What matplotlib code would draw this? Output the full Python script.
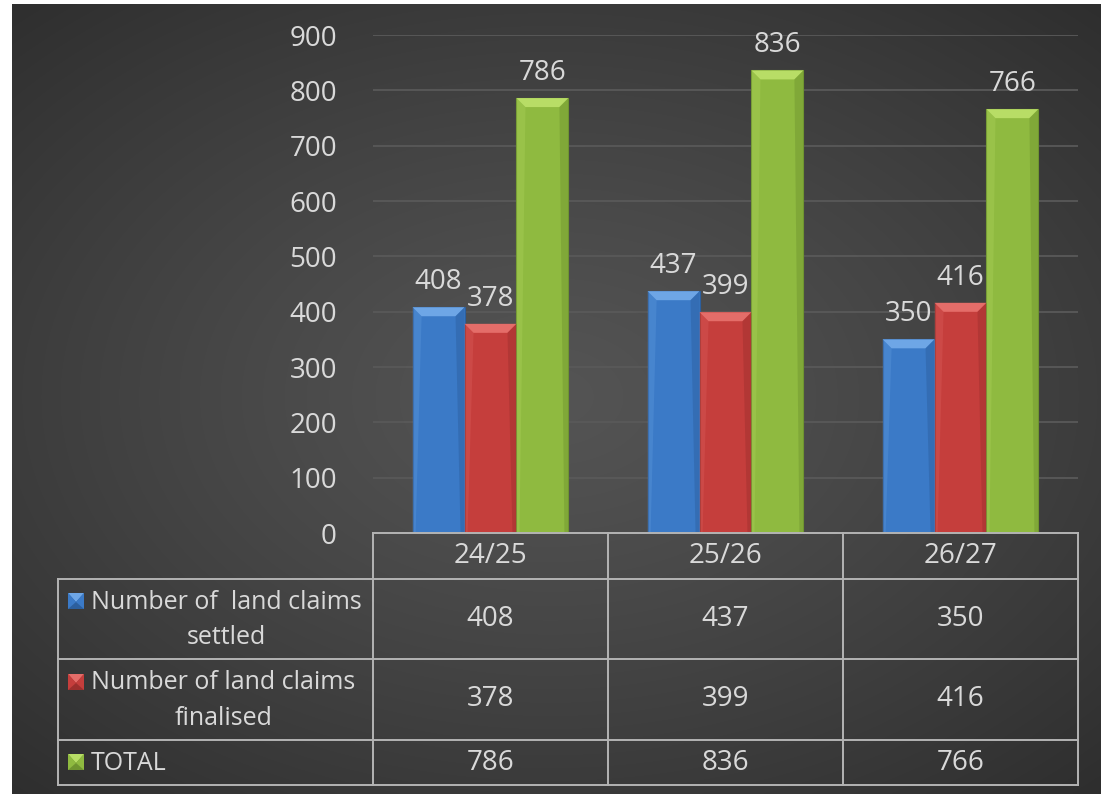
import numpy as np
import matplotlib
matplotlib.use("Agg")
import matplotlib.pyplot as plt
from matplotlib.patches import Polygon, Rectangle

years = ["24/25", "25/26", "26/27"]
settled = [408, 437, 350]
finalised = [378, 399, 416]
total = [786, 836, 766]
series_labels = ["Number of  land claims\nsettled", "Number of land claims\nfinalised", "TOTAL"]
y_ticks = [0, 100, 200, 300, 400, 500, 600, 700, 800, 900]

face_cols = ["#3b7ac7", "#c53e3c", "#8fba40"]
top_cols = ["#6ea6e6", "#e46d69", "#b8dd66"]
dark_cols = ["#2c5f9e", "#9c2f2d", "#6f9430"]
txt_col = "#d9d9d9"
line_col = "#b4b4b4"
plt.rcParams["font.family"] = ["Open Sans", "DejaVu Sans"]
fs = 20
fs_lbl = 18

W, H = 1101, 794
fig = plt.figure(figsize=(W / 100, H / 100), dpi=100)
fig.patch.set_facecolor("#262626")

# dark radial backdrop
bg = fig.add_axes([0, 0, 1, 1])
bg.set_axis_off()
yy, xx = np.mgrid[0:1:400j, 0:1:550j]
r = np.sqrt(((xx - 0.5) / 0.85) ** 2 + ((yy - 0.5) / 0.8) ** 2)
r = np.clip(r, 0, 1)
c0, c1 = 0.33, 0.15
shade = c0 - (c0 - c1) * r ** 1.2
bg.imshow(np.dstack([shade] * 3), aspect="auto", extent=[0, 1, 0, 1], interpolation="bilinear")
bg.set_xlim(0, 1)
bg.set_ylim(0, 1)
# white margin on the left and top
bg.add_patch(Rectangle((0, 0), 12 / W, 1, color="white", lw=0, zorder=5))
bg.add_patch(Rectangle((0, 1 - 4 / H), 1, 4 / H, color="white", lw=0, zorder=5))

# bar chart
ax = fig.add_axes([373 / W, (H - 533) / H, 705 / W, 498 / H])
ax.set_facecolor("none")
ax.set_xlim(-0.5, 2.5)
ax.set_ylim(0, 900)
for s in ax.spines.values():
    s.set_visible(False)
ax.set_xticks([])
ax.set_yticks(y_ticks)
ax.set_yticklabels([str(t) for t in y_ticks], fontsize=fs, color=txt_col)
ax.tick_params(axis="y", length=0, pad=26)
for t in y_ticks[1:]:
    ax.axhline(t, color="#595959", lw=1.3, zorder=0)

x = np.arange(len(years))
bw = 0.221
px_x = 3.0 / 705      # one pixel in x data units
px_y = 900.0 / 498    # one pixel in y data units
series = [settled, finalised, total]
for i, vals in enumerate(series):
    xs = x + (i - 1) * bw
    ax.bar(xs, vals, width=bw, color=face_cols[i], edgecolor=dark_cols[i], lw=0.8, zorder=2)
    for xc, v in zip(xs, vals):
        x0, x1 = xc - bw / 2, xc + bw / 2
        d, e = 9 * px_x, 9 * px_y
        # bevel faces
        ax.add_patch(Polygon([(x0, v), (x1, v), (x1 - d, v - e), (x0 + d, v - e)],
                             closed=True, color=top_cols[i], lw=0, zorder=3))
        ax.add_patch(Polygon([(x1, v), (x1, 0), (x1 - 4 * px_x, 0), (x1 - d, v - e)],
                             closed=True, color=dark_cols[i], lw=0, alpha=0.45, zorder=3))
        ax.add_patch(Polygon([(x0, v), (x0, 0), (x0 + 3 * px_x, 0), (x0 + d, v - e)],
                             closed=True, color=top_cols[i], lw=0, alpha=0.25, zorder=3))
        ax.annotate(str(v), (xc, v), xytext=(0, 18), textcoords="offset points",
                    ha="center", va="center", fontsize=fs, color=txt_col, zorder=4)

# data table below the plot
tb = fig.add_axes([0, 0, 1, 1], facecolor="none")
tb.set_axis_off()
tb.set_xlim(0, W)
tb.set_ylim(H, 0)

col_x = [373, 608, 843, 1078]
row_y = [533, 579, 659, 740, 785]
left_x = 58
lk = dict(color=line_col, lw=1.4, solid_capstyle="projecting")
tb.plot([col_x[0], col_x[-1]], [row_y[0], row_y[0]], **lk)
for yv in row_y[1:]:
    tb.plot([left_x, col_x[-1]], [yv, yv], **lk)
tb.plot([left_x, left_x], [row_y[1], row_y[-1]], **lk)
for xv in col_x:
    tb.plot([xv, xv], [row_y[0], row_y[-1]], **lk)

col_c = [(a + b) / 2 for a, b in zip(col_x[:-1], col_x[1:])]
for xc, yr in zip(col_c, years):
    tb.text(xc, (row_y[0] + row_y[1]) / 2, yr, ha="center", va="center", fontsize=fs, color=txt_col)

key_y = [601, 682, 762]
for i, vals in enumerate(series):
    yc = (row_y[i + 1] + row_y[i + 2]) / 2
    for xc, v in zip(col_c, vals):
        tb.text(xc, yc, str(v), ha="center", va="center", fontsize=fs, color=txt_col)
    # legend key
    ky = key_y[i]
    tb.add_patch(Rectangle((68, ky - 8), 16, 16, color=dark_cols[i], lw=0))
    tb.add_patch(Polygon([(68, ky - 8), (84, ky - 8), (76, ky + 1)], closed=True,
                         color=top_cols[i], lw=0))
    tb.add_patch(Polygon([(68, ky - 8), (76, ky + 1), (68, ky + 8)], closed=True,
                         color=face_cols[i], lw=0))
    tb.add_patch(Polygon([(84, ky - 8), (76, ky + 1), (84, ky + 8)], closed=True,
                         color=face_cols[i], lw=0))
    tb.text(91, yc + 1, series_labels[i], ha="left", va="center", multialignment="center",
            fontsize=fs_lbl, color=txt_col, linespacing=1.55)

fig.savefig("out.png", dpi=100, facecolor=fig.get_facecolor())
